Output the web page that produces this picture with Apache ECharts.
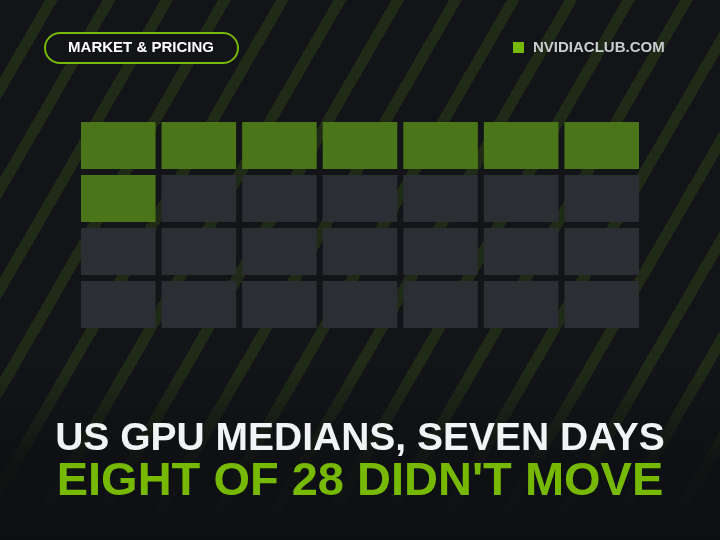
<!DOCTYPE html>
<html>
<head>
<meta charset="utf-8">
<script src="https://cdn.jsdelivr.net/npm/echarts@6/dist/echarts.min.js"></script>
<style>
html,body{margin:0;padding:0;}
body{width:720px;height:540px;background:#121417;}
#wrap{position:relative;width:720px;height:540px;overflow:hidden;
  background:repeating-linear-gradient(120deg,#121417 0px,#121417 39px,#1f2b17 39px,#1f2b17 50px);}
#shade{position:absolute;left:0;top:0;width:720px;height:540px;
  background:linear-gradient(to bottom,rgba(14,15,18,0) 0%,rgba(14,15,18,0) 68%,rgba(14,15,18,0.85) 86%,rgba(14,15,18,1) 100%);}
#chart{position:absolute;left:0;top:0;width:720px;height:540px;}
</style>
</head>
<body>
<div id="wrap"><div id="shade"></div><div id="chart"></div></div>
<script>
// 28 GPUs, 8 of them flat over seven days
var columns = ['1','2','3','4','5','6','7'];
var rows = ['1','2','3','4'];
var totalCount = 28;
var unchangedCount = 8;

var cells = [];
for (var i = 0; i < totalCount; i++) {
	cells.push([i % 7, Math.floor(i / 7), i < unchangedCount ? 1 : 0]);
}

var myChart = echarts.init(document.getElementById('chart'));
var option = {
	backgroundColor: 'transparent',
	grid: {left: 78, right: 78, top: 119, bottom: 209},
	xAxis: {type: 'category', data: columns, show: false},
	yAxis: {type: 'category', data: rows, inverse: true, show: false},
	series: [{
		type: 'custom',
		data: cells,
		renderItem: function (params, api) {
			var c = api.coord([api.value(0), api.value(1)]);
			var s = api.size([1, 1]);
			var w = s[0] - 6, h = s[1] - 6;
			return {
				type: 'rect',
				shape: {x: c[0] - w / 2, y: c[1] - h / 2, width: w, height: h},
				style: {fill: api.value(2) ? '#4a7518' : '#2b2e33'}
			};
		}
	}],
	graphic: [
		{type: 'rect', shape: {x: 45, y: 33, width: 193, height: 30, r: 15},
			style: {fill: '#121417', stroke: '#76b900', lineWidth: 2}},
		{type: 'text', x: 141, y: 48, style: {text: 'MARKET & PRICING', fill: '#ffffff',
			font: 'bold 15px "Liberation Sans"', align: 'center', verticalAlign: 'middle'}},
		{type: 'rect', shape: {x: 513, y: 42, width: 11, height: 11}, style: {fill: '#76b900'}},
		{type: 'text', x: 533, y: 48, style: {text: 'NVIDIACLUB.COM', fill: '#c9ccd1',
			font: 'bold 15px "Liberation Sans"', verticalAlign: 'middle'}},
		{type: 'text', x: 360, y: 439, style: {text: 'US GPU MEDIANS, SEVEN DAYS', fill: '#f2f3f5',
			font: 'bold 39px "Liberation Sans"', align: 'center', verticalAlign: 'middle'}},
		{type: 'text', x: 360, y: 482, style: {text: "EIGHT OF 28 DIDN'T MOVE", fill: '#76b900',
			font: 'bold 47px "Liberation Sans"', align: 'center', verticalAlign: 'middle'}}
	]
};
myChart.setOption(option);
</script>
</body>
</html>
